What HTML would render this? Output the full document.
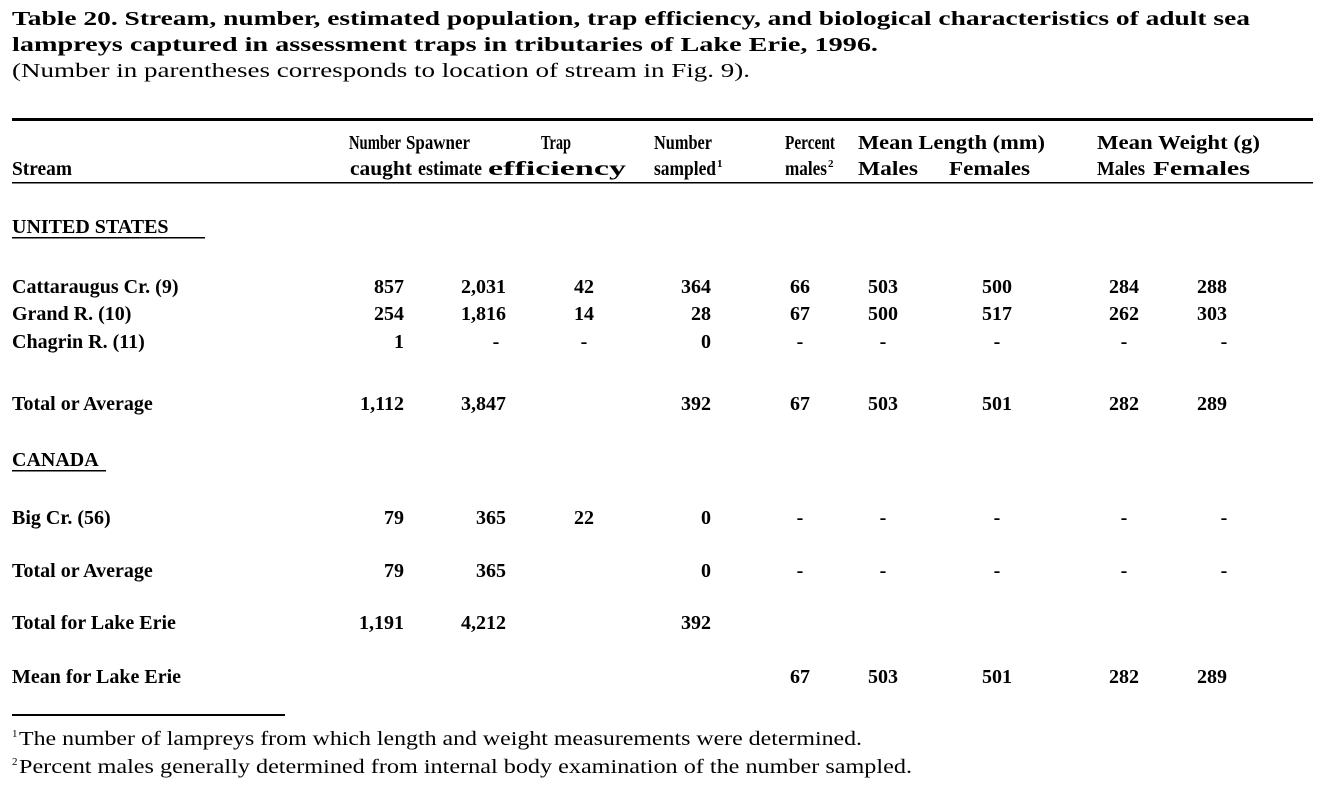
<!DOCTYPE html>
<html><head><meta charset="utf-8"><style>
html,body{margin:0;padding:0;background:#fff;}
svg{display:block}
text{font-family:"Liberation Serif",serif;font-weight:bold;font-size:20px;fill:#000}
.n{font-weight:normal}
.c{text-anchor:middle}
.r{text-anchor:end}
.s{font-size:11px}
</style></head><body>
<svg width="1330" height="800" xmlns="http://www.w3.org/2000/svg">
<text x="12" y="25" textLength="1238" lengthAdjust="spacingAndGlyphs">Table 20.  Stream, number, estimated population, trap efficiency, and biological characteristics of adult sea</text>
<text x="12" y="51" textLength="866" lengthAdjust="spacingAndGlyphs">lampreys captured in assessment traps in tributaries of Lake Erie, 1996.</text>
<text x="12" y="77" class="n" textLength="738" lengthAdjust="spacingAndGlyphs">(Number in parentheses corresponds to location of stream in Fig. 9).</text>
<rect x="12" y="118" width="1301" height="3" fill="#000"/>
<g>
<text x="349" y="149" textLength="52" lengthAdjust="spacingAndGlyphs">Number</text>
<text x="406" y="149" textLength="64" lengthAdjust="spacingAndGlyphs">Spawner</text>
<text x="541" y="149" textLength="30" lengthAdjust="spacingAndGlyphs">Trap</text>
<text x="654" y="149" textLength="58" lengthAdjust="spacingAndGlyphs">Number</text>
<text x="785" y="149" textLength="50" lengthAdjust="spacingAndGlyphs">Percent</text>
<text x="858" y="149" textLength="187" lengthAdjust="spacingAndGlyphs">Mean Length (mm)</text>
<text x="1097" y="149" textLength="163" lengthAdjust="spacingAndGlyphs">Mean Weight (g)</text>
<text x="350" y="175" textLength="62" lengthAdjust="spacingAndGlyphs">caught</text>
<text x="418" y="175" textLength="64" lengthAdjust="spacingAndGlyphs">estimate</text>
<text x="488" y="175" textLength="138" lengthAdjust="spacingAndGlyphs">efficiency</text>
<text x="654" y="175" textLength="62" lengthAdjust="spacingAndGlyphs">sampled</text><text x="717" y="167" class="s">1</text>
<text x="785" y="175" textLength="42" lengthAdjust="spacingAndGlyphs">males</text><text x="828" y="167" class="s">2</text>
<text x="858" y="175" textLength="60" lengthAdjust="spacingAndGlyphs">Males</text>
<text x="949" y="175" textLength="81" lengthAdjust="spacingAndGlyphs">Females</text>
<text x="1097" y="175" textLength="48" lengthAdjust="spacingAndGlyphs">Males</text>
<text x="1153" y="175" textLength="97" lengthAdjust="spacingAndGlyphs">Females</text>
</g>
<text x="12" y="175" textLength="60" lengthAdjust="spacingAndGlyphs">Stream</text>
<rect x="12" y="182" width="1301" height="1.5" fill="#000"/>
<text x="12" y="233">UNITED STATES</text>
<rect x="12" y="237" width="193" height="1.5" fill="#000"/>
<text x="12" y="466">CANADA</text>
<rect x="12" y="470" width="94" height="1.5" fill="#000"/>
<g>
<text x="12" y="293">Cattaraugus Cr. (9)</text>
<text x="404" y="293" class="r">857</text><text x="506" y="293" class="r">2,031</text><text x="584" y="293" class="c">42</text><text x="711" y="293" class="r">364</text><text x="800" y="293" class="c">66</text><text x="883" y="293" class="c">503</text><text x="997" y="293" class="c">500</text><text x="1124" y="293" class="c">284</text><text x="1212" y="293" class="c">288</text>
<text x="12" y="320">Grand R. (10)</text>
<text x="404" y="320" class="r">254</text><text x="506" y="320" class="r">1,816</text><text x="584" y="320" class="c">14</text><text x="711" y="320" class="r">28</text><text x="800" y="320" class="c">67</text><text x="883" y="320" class="c">500</text><text x="997" y="320" class="c">517</text><text x="1124" y="320" class="c">262</text><text x="1212" y="320" class="c">303</text>
<text x="12" y="348">Chagrin R. (11)</text>
<text x="404" y="348" class="r">1</text><text x="496" y="348" class="c">-</text><text x="584" y="348" class="c">-</text><text x="711" y="348" class="r">0</text><text x="800" y="348" class="c">-</text><text x="883" y="348" class="c">-</text><text x="997" y="348" class="c">-</text><text x="1124" y="348" class="c">-</text><text x="1224" y="348" class="c">-</text>
<text x="12" y="410">Total or Average</text>
<text x="404" y="410" class="r">1,112</text><text x="506" y="410" class="r">3,847</text><text x="711" y="410" class="r">392</text><text x="800" y="410" class="c">67</text><text x="883" y="410" class="c">503</text><text x="997" y="410" class="c">501</text><text x="1124" y="410" class="c">282</text><text x="1212" y="410" class="c">289</text>
<text x="12" y="524">Big Cr. (56)</text>
<text x="404" y="524" class="r">79</text><text x="506" y="524" class="r">365</text><text x="584" y="524" class="c">22</text><text x="711" y="524" class="r">0</text><text x="800" y="524" class="c">-</text><text x="883" y="524" class="c">-</text><text x="997" y="524" class="c">-</text><text x="1124" y="524" class="c">-</text><text x="1224" y="524" class="c">-</text>
<text x="12" y="577">Total or Average</text>
<text x="404" y="577" class="r">79</text><text x="506" y="577" class="r">365</text><text x="711" y="577" class="r">0</text><text x="800" y="577" class="c">-</text><text x="883" y="577" class="c">-</text><text x="997" y="577" class="c">-</text><text x="1124" y="577" class="c">-</text><text x="1224" y="577" class="c">-</text>
<text x="12" y="629">Total for Lake Erie</text>
<text x="404" y="629" class="r">1,191</text><text x="506" y="629" class="r">4,212</text><text x="711" y="629" class="r">392</text>
<text x="12" y="683">Mean for Lake Erie</text>
<text x="800" y="683" class="c">67</text><text x="883" y="683" class="c">503</text><text x="997" y="683" class="c">501</text><text x="1124" y="683" class="c">282</text><text x="1212" y="683" class="c">289</text>
</g>
<rect x="12" y="714" width="273" height="2" fill="#000"/>
<text x="12" y="737" class="n s">1</text>
<text x="19" y="745" class="n" textLength="843" lengthAdjust="spacingAndGlyphs">The number of lampreys from which length and weight measurements were determined.</text>
<text x="12" y="765" class="n s">2</text>
<text x="19" y="773" class="n" textLength="893" lengthAdjust="spacingAndGlyphs">Percent males generally determined from internal body examination of the number sampled.</text>
</svg>
</body></html>
